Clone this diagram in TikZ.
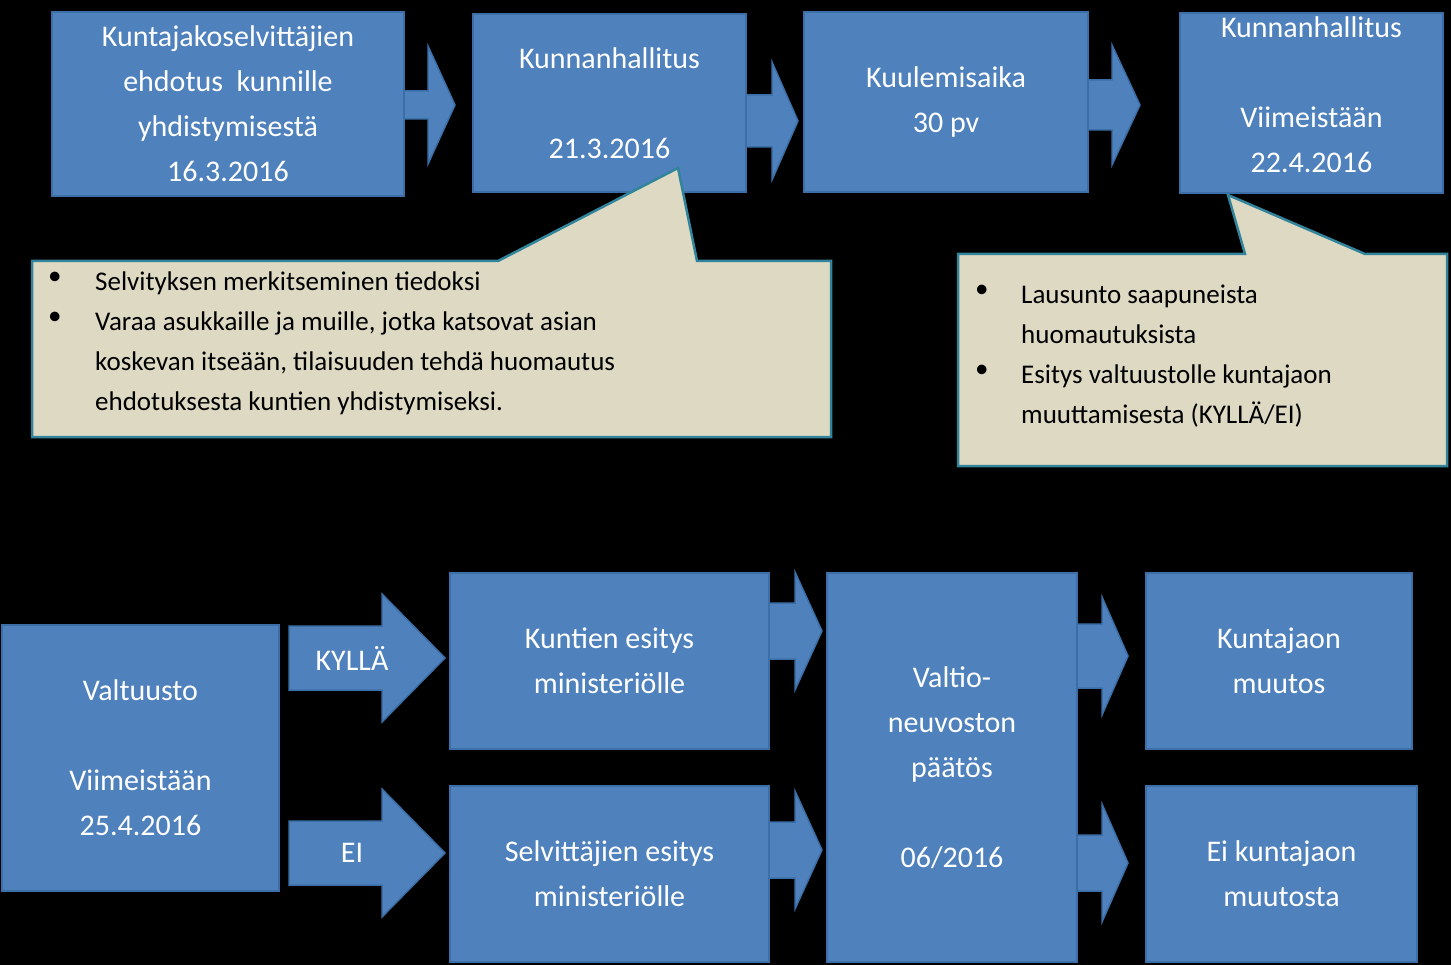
\documentclass[tikz,border=0pt]{standalone}
\usepackage{fontspec}
\setmainfont{Carlito}
\definecolor{bblue}{HTML}{4F81BD}
\definecolor{bedge}{HTML}{3C6FA8}
\definecolor{cfill}{HTML}{DDD9C3}
\definecolor{cedge}{HTML}{31849B}
\tikzset{
 box/.style={fill=bblue,draw=bedge,line width=2pt,text=white,align=center,font=\fontsize{30}{45}\selectfont,inner sep=0pt},
 arr/.style={fill=bblue,draw=bedge,line width=1.5pt},
 call/.style={fill=cfill,draw=cedge,line width=2.5pt},
 ctext/.style={align=left,anchor=north west,font=\fontsize{27}{40}\selectfont,inner sep=0pt,text=black}
}
\newcommand{\bx}[6]{\node[box,minimum width={#4-#2},minimum height={#5-#3}] (#1) at ({(#2+#4)/2},{(#3+#5)/2}) {#6};}
\newcommand{\barrow}[6]{\draw[arr] (#1,#4-#5)--(#2,#4-#5)--(#2,#4-#6)--(#3,#4)--(#2,#4+#6)--(#2,#4+#5)--(#1,#4+#5)--cycle;}
\begin{document}
\begin{tikzpicture}[x=1pt,y=-1pt]
\fill[black] (0,0) rectangle (1451,965);
\useasboundingbox (0,0) rectangle (1451,965);
\bx{b1}{52}{12}{404}{196}{Kuntajakoselvittäjien\\ehdotus\ \ kunnille\\yhdistymisestä\\16.3.2016}
\bx{b2}{473}{14}{746}{192}{Kunnanhallitus\\[45pt]21.3.2016}
\bx{b3}{804}{12}{1088}{192}{Kuulemisaika\\30 pv}
\node[box,minimum width=263,minimum height=180,anchor=north,text depth=0pt] (b4) at (1311.5,12) {};
\node[text=white,align=center,font=\fontsize{30}{45}\selectfont,anchor=north,inner sep=0pt] at (1311.5,16) {Kunnanhallitus\\[45pt]Viimeistään\\22.4.2016};
\barrow{404}{428}{455}{105}{14}{59}
\barrow{746}{772}{798}{121}{26}{59}
\barrow{1088}{1112}{1140}{105}{25}{60}
% callout 1
\draw[call] (32,261)--(498,261)--(678,168)--(697,261)--(831,261)--(831,437)--(32,437)--cycle;
\node[ctext] (c1) at (48,272) {•\\•};
\node[ctext] (c1t) at (95,272) {Selvityksen merkitseminen tiedoksi\\Varaa asukkaille ja muille, jotka katsovat asian\\koskevan itseään, tilaisuuden tehdä huomautus\\ehdotuksesta kuntien yhdistymiseksi.};
% callout 2
\draw[call] (958,254)--(1245,254)--(1228,195)--(1365,254)--(1447,254)--(1447,466)--(958,466)--cycle;
\node[ctext] (c2) at (975,285) {•\\\\•};
\node[ctext] (c2t) at (1021,285) {Lausunto saapuneista\\huomautuksista\\Esitys valtuustolle kuntajaon\\muuttamisesta (KYLLÄ/EI)};
% bottom
\bx{v}{2}{625}{279}{891}{Valtuusto\\[45pt]Viimeistään\\25.4.2016}
\bx{k1}{450}{573}{769}{749}{Kuntien esitys\\ministeriölle}
\bx{s1}{450}{786}{769}{962}{Selvittäjien esitys\\ministeriölle}
\bx{vn}{827}{573}{1077}{962}{Valtio-\\neuvoston\\päätös\\[45pt]06/2016}
\bx{km}{1146}{573}{1412}{749}{Kuntajaon\\muutos}
\bx{ek}{1146}{786}{1417}{962}{Ei kuntajaon\\muutosta}
\barrow{289}{382}{445}{658}{32}{64}
\node[text=white,font=\fontsize{30}{45}\selectfont] (ky) at (352,658) {KYLLÄ};
\barrow{289}{382}{445}{853}{32}{64}
\node[text=white,font=\fontsize{30}{45}\selectfont] (ei) at (352,853) {EI};
\barrow{769}{795}{822}{631}{28}{59}
\barrow{769}{795}{822}{850}{28}{59}
\barrow{1077}{1102}{1128}{656}{32}{59}
\barrow{1077}{1102}{1128}{863}{28}{59}
\end{tikzpicture}
\end{document}
